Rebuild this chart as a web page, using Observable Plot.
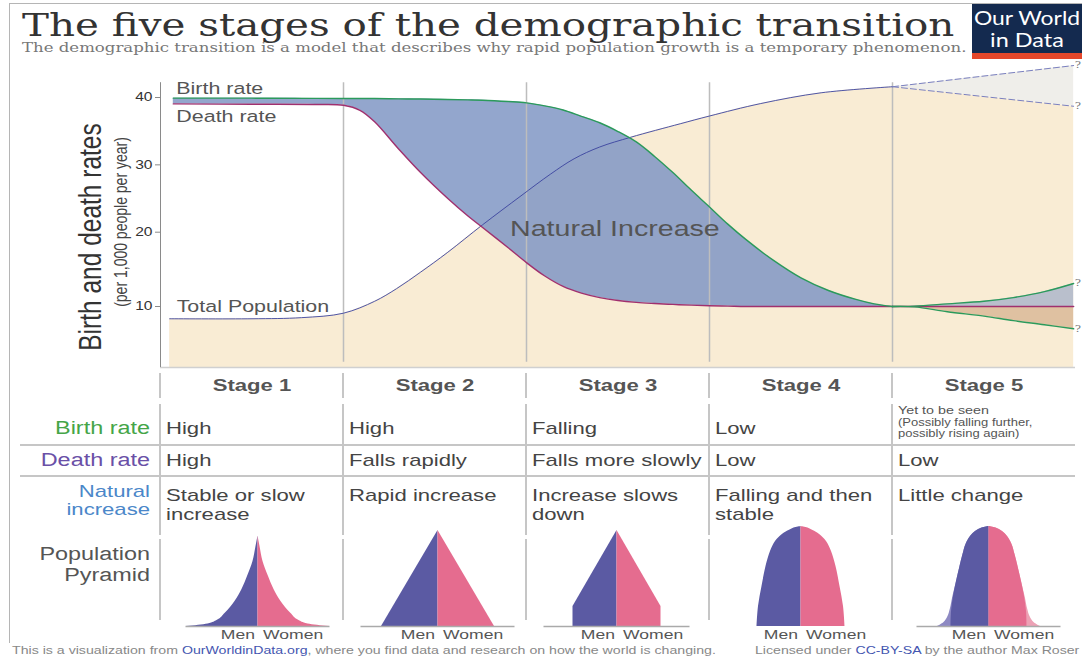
<!DOCTYPE html>
<html>
<head>
<meta charset="utf-8">
<script src="https://cdn.jsdelivr.net/npm/d3@7"></script>
<script src="https://cdn.jsdelivr.net/npm/@observablehq/plot@0.6"></script>
<style>
  body { margin: 0; background: #fff; }
  #page { position: relative; width: 1082px; height: 657px; overflow: hidden; background: #fff;
          font-family: "Liberation Sans", Arial, sans-serif; }
  .t { position: absolute; white-space: nowrap; line-height: 1; }
  .box { position: absolute; }
</style>
</head>
<body>
<div id="page"></div>
<script>
// ---------------- DATA ----------------
const stages = ["Stage 1", "Stage 2", "Stage 3", "Stage 4", "Stage 5"];
const yTicks = [10, 20, 30, 40];
const seriesLabels = ["Birth rate", "Death rate", "Total Population"];
const increaseLabel = "Natural Increase";

// stages 1-4: x measured in stages (0 = start of stage 1, 5 = end of stage 5)
const rateX     = [0.07, 0.5, 0.85, 1.0, 1.09, 1.17, 1.3, 1.42, 1.57, 1.68, 1.76, 1.9, 2.0, 2.1, 2.2, 2.3, 2.4, 2.5, 2.6, 2.7, 2.8, 2.9, 3.0, 3.1, 3.2, 3.35, 3.5, 3.65, 3.8, 3.9, 4.0];
const birthRate = [39.9, 39.9, 39.87, 39.85, 39.85, 39.85, 39.8, 39.77, 39.7, 39.65, 39.6, 39.4, 39.2, 38.75, 38.15, 37.2, 36.25, 34.95, 33.4, 31.25, 28.85, 26.25, 23.75, 21.2, 19.0, 16.2, 13.85, 12.15, 10.95, 10.35, 10.0];
const deathRate = [39.05, 39.0, 38.97, 38.85, 38.1, 36.4, 32.4, 28.9, 25.0, 22.4, 20.7, 17.9, 15.9, 14.1, 12.7, 11.8, 11.2, 10.8, 10.55, 10.4, 10.28, 10.18, 10.1, 10.05, 10.0, 10.0, 10.0, 10.0, 10.0, 10.0, 10.0];

const popX       = [0.05, 0.5, 0.77, 1.0, 1.17, 1.29, 1.42, 1.57, 1.76, 1.97, 2.13, 2.26, 2.4, 2.57, 2.84, 3.0, 3.28, 3.61, 4.0];
const population = [8.35, 8.35, 8.5, 9.1, 10.7, 12.4, 14.6, 17.3, 21.1, 25.4, 28.6, 30.9, 32.65, 34.1, 36.1, 37.25, 39.1, 40.7, 41.6];

// stage 5 (uncertain future)
const stage5X     = [4.0, 4.12, 4.3, 4.5, 4.66, 4.83, 4.99];
const birthHigh   = [10.0, 10.05, 10.35, 10.7, 11.2, 12.0, 13.1];
const birthLow    = [10.0, 9.95, 9.3, 8.7, 8.1, 7.55, 7.0];
const deathStage5 = [10, 10, 10, 10, 10, 10, 10];
const popX5   = [4.0, 4.99];
const popHigh = [41.6, 44.75];
const popLow  = [41.6, 38.7];

// table texts
const birthText = ["High", "High", "Falling", "Low"];
const birthTextStage5 = ["Yet to be seen", "(Possibly falling further,", "possibly rising again)"];
const deathText = ["High", "Falls rapidly", "Falls more slowly", "Low", "Low"];
const increaseText = [["Stable or slow", "increase"], ["Rapid increase"], ["Increase slows", "down"], ["Falling and then", "stable"], ["Little change"]];

// population pyramids: height (0-100) and half width at that height
const pyramidHeights = [
  [0, 2.6, 6, 13, 25, 37, 50, 65, 80, 90.5],
  [0, 96],
  [0, 20, 96],
  [0, 20, 40, 60, 75, 85, 92, 96, 98.5, 100],
  [0, 15, 30, 45, 60, 72, 82, 90, 95, 98.5, 100]
];
const pyramidWidths = [
  [72, 50, 41, 33, 23, 16, 10.5, 5, 2, 0],
  [56.5, 0],
  [44, 44, 0],
  [44, 42.5, 39, 35, 30.5, 25.5, 18.6, 12, 7, 0],
  [38, 37.5, 35.5, 32.5, 29, 26, 23, 18.5, 13.5, 7, 0]
];
const pyramid5OuterHeights = [0, 4, 10, 18, 28, 45, 60, 72, 82, 90, 95, 98.5, 100];
const pyramid5OuterWidths  = [51.5, 45, 41, 38.5, 36.5, 32.5, 29, 26, 23, 18.5, 13.5, 7, 0];

// ---------------- LAYOUT / STYLE ----------------
const page = document.getElementById("page");
const SX = 1.3;             // horizontal stretch of the original artwork
const colStarts = [160, 343, 526, 709, 892];
const colW = 183;
const BEIGE = "#f9ecd4", GREEN = "#2b9a5b", PURPLE = "#a0306e", POPBLUE = "#3b44a0";
const MEN = "#5b5aa3", WOMEN = "#e56c8f", MEN_L = "#8d89c3", WOMEN_L = "#eda1b5";
const CURVE = "catmull-rom";

function label(text, x, y, o = {}) {
  const d = document.createElement("div");
  d.className = "t";
  if (o.html) d.innerHTML = text; else d.textContent = text;
  d.style.left = x + "px";
  d.style.top = y + "px";
  d.style.fontSize = (o.size || 17) + "px";
  d.style.color = o.color || "#444";
  if (o.weight) d.style.fontWeight = o.weight;
  if (o.family) d.style.fontFamily = o.family;
  page.appendChild(d);
  let sx = o.sx ?? SX;
  if (o.fit) sx = o.fit / d.offsetWidth;
  const a = o.anchor || "start";
  const tx = a === "start" ? "0" : a === "end" ? "-100%" : "-50%";
  d.style.transformOrigin = (a === "start" ? "0%" : a === "end" ? "100%" : "50%") + " 50%";
  d.style.transform = `translate(${tx},-50%) scaleX(${sx})`;
  return d;
}
function rect(x, y, w, h, bg) {
  const d = document.createElement("div");
  d.className = "box";
  Object.assign(d.style, {left: x + "px", top: y + "px", width: w + "px", height: h + "px", background: bg});
  page.appendChild(d);
  return d;
}
function stretchSvgText(svg, s) {
  svg.querySelectorAll("text").forEach(t => {
    const x = +(t.getAttribute("x") || 0);
    const tr = t.getAttribute("transform") || "";
    t.setAttribute("transform", `${tr} translate(${x},0) scale(${s},1) translate(${-x},0)`);
  });
}

// frame
rect(9, 3, 1073, 1, "#b5b5b5");
rect(9, 3, 1, 640, "#b5b5b5");

// title & subtitle
label("The five stages of the demographic transition", 22, 25,
      {size: 31, color: "#333", family: '"DejaVu Serif", serif', fit: 933});
label("The demographic transition is a model that describes why rapid population growth is a temporary phenomenon.", 22, 47.5,
      {size: 12, color: "#777", family: '"DejaVu Serif", serif', fit: 945});

// logo
rect(972, 4, 110, 49, "#142a4f");
rect(972, 53, 110, 6, "#e5472b");
label("Our World", 1027, 17, {size: 19, color: "#fff", family: "Lato, sans-serif", anchor: "middle", fit: 106});
label("in Data", 1027, 39, {size: 19, color: "#fff", family: "Lato, sans-serif", anchor: "middle", fit: 74});

// ---------------- MAIN CHART ----------------
const rates = rateX.map((x, i) => ({x, birth: birthRate[i], death: deathRate[i]}));
const pop = popX.map((x, i) => ({x, y: population[i]}));
const s5 = stage5X.map((x, i) => ({x, hi: birthHigh[i], lo: birthLow[i], death: deathStage5[i]}));
const pop5 = popX5.map((x, i) => ({x, hi: popHigh[i], lo: popLow[i]}));
const yBase = 1.8;
const qMarks = [
  {x: popX5[1], y: popHigh[1]}, {x: popX5[1], y: popLow[1]},
  {x: stage5X[stage5X.length - 1], y: birthHigh[birthHigh.length - 1]},
  {x: stage5X[stage5X.length - 1], y: birthLow[birthLow.length - 1]}
];

const chart = Plot.plot({
  width: 1082, height: 315,
  marginLeft: 160, marginRight: 7, marginTop: 0, marginBottom: 8,
  style: {fontFamily: '"Liberation Sans", Arial, sans-serif', background: "transparent", overflow: "visible"},
  x: {domain: [0, 5], axis: null},
  y: {type: "linear", domain: [yBase, 10, 20, 40, 45.5], range: [307, 246, 171.7, 37, 0], axis: null},
  marks: [
    Plot.areaY(pop, {x: "x", y1: yBase, y2: "y", fill: BEIGE, curve: CURVE}),
    Plot.areaY(pop5, {x: "x", y1: yBase, y2: "lo", fill: BEIGE}),
    Plot.areaY(pop5, {x: "x", y1: "lo", y2: "hi", fill: "#efeeea"}),
    Plot.areaY(rates, {x: "x", y1: "death", y2: "birth", fill: "#8096c4", fillOpacity: 0.85, curve: CURVE}),
    Plot.areaY(s5, {x: "x", y1: "death", y2: "hi", fill: "#b9bfcc", curve: CURVE}),
    Plot.areaY(s5, {x: "x", y1: "lo", y2: "death", fill: "#dfc1a1", curve: CURVE}),
    Plot.ruleX([1, 2, 3, 4], {y1: 2.5, y2: 42.2, stroke: "#bdbdbd", strokeWidth: 1.5}),
    Plot.ruleY([yBase], {stroke: "#d0d0d0", strokeWidth: 1.5}),
    Plot.line(pop, {x: "x", y: "y", stroke: POPBLUE, strokeWidth: 0.9, curve: CURVE}),
    Plot.line(pop5, {x: "x", y: "hi", stroke: "#7a80c0", strokeWidth: 1, strokeDasharray: "6,3"}),
    Plot.line(pop5, {x: "x", y: "lo", stroke: "#7a80c0", strokeWidth: 1, strokeDasharray: "6,3"}),
    Plot.line(rates, {x: "x", y: "death", stroke: PURPLE, strokeWidth: 1.4, curve: CURVE}),
    Plot.line(s5, {x: "x", y: "death", stroke: PURPLE, strokeWidth: 1.4}),
    Plot.line(rates, {x: "x", y: "birth", stroke: GREEN, strokeWidth: 1.4, curve: CURVE}),
    Plot.line(s5, {x: "x", y: "hi", stroke: GREEN, strokeWidth: 1.4, curve: CURVE}),
    Plot.line(s5, {x: "x", y: "lo", stroke: GREEN, strokeWidth: 1.4, curve: CURVE}),
    Plot.ruleX([0], {y1: yBase, y2: 42.2, stroke: "#8a8a8a", strokeWidth: 1}),
    Plot.axisY(yTicks, {anchor: "left", tickSize: 5, tickPadding: 3, fontSize: 12, color: "#333", stroke: "#8a8a8a", label: null}),
    Plot.text([rates[0]], {x: "x", y: "birth", text: () => seriesLabels[0], dx: 3, dy: -9, textAnchor: "start", fontSize: 16.5, fill: "#555"}),
    Plot.text([rates[0]], {x: "x", y: "death", text: () => seriesLabels[1], dx: 3, dy: 13, textAnchor: "start", fontSize: 16.5, fill: "#555"}),
    Plot.text([pop[0]], {x: "x", y: "y", text: () => seriesLabels[2], dx: 7, dy: -12, textAnchor: "start", fontSize: 16.5, fill: "#555"}),
    Plot.text([{x: 1.91, y: 20.55}], {x: "x", y: "y", text: () => increaseLabel, textAnchor: "start", fontSize: 22, fill: "#555"}),
    Plot.text(qMarks, {x: "x", y: "y", text: () => "?", dx: 1, textAnchor: "start", fontSize: 9, fill: "#777", fontFamily: '"DejaVu Serif", serif'})
  ]
});
stretchSvgText(chart, SX);
const chartWrap = document.createElement("div");
chartWrap.className = "box";
chartWrap.style.left = "0px"; chartWrap.style.top = "60px";
chartWrap.appendChild(chart);
page.appendChild(chartWrap);

// y axis title (rotated)
function vlabel(text, cx, cy, size, color) {
  const d = document.createElement("div");
  d.className = "t";
  d.textContent = text;
  Object.assign(d.style, {left: cx + "px", top: cy + "px", fontSize: size + "px", color,
    transformOrigin: "50% 50%", transform: `translate(-50%,-50%) rotate(-90deg) scaleY(${SX})`});
  page.appendChild(d);
}
vlabel("Birth and death rates", 91, 236.5, 24.5, "#333");
vlabel("(per 1,000 people per year)", 120, 221.7, 14, "#444");

// ---------------- TABLE ----------------
const DIV = "#c6c6c6";
colStarts.forEach(x => {
  rect(x - 0.75, 373, 1.5, 25, DIV);
  rect(x - 0.75, 404, 1.5, 131, DIV);
  rect(x - 0.75, 539, 1.5, 81, DIV);
});
rect(20, 444, 1055, 1.5, DIV);
rect(20, 475, 1055, 1.5, DIV);

stages.forEach((s, i) => label(s, colStarts[i] + colW / 2, 385, {size: 17, weight: "bold", color: "#555", anchor: "middle"}));

label("Birth rate", 150, 428, {size: 18, color: "#45a548", anchor: "end"});
label("Death rate", 150, 460, {size: 18, color: "#6a50a7", anchor: "end"});
label("Natural", 150, 491, {size: 17, color: "#4b87c9", anchor: "end"});
label("increase", 150, 508.5, {size: 17, color: "#4b87c9", anchor: "end"});
label("Population", 150, 554, {size: 18, color: "#555", anchor: "end"});
label("Pyramid", 150, 574.5, {size: 18, color: "#555", anchor: "end"});

birthText.forEach((t, i) => label(t, colStarts[i] + 5.5, 428, {size: 17}));
label(birthTextStage5[0], colStarts[4] + 5.5, 410, {size: 11, color: "#555"});
label(birthTextStage5[1], colStarts[4] + 5.5, 422.5, {size: 10, color: "#555"});
label(birthTextStage5[2], colStarts[4] + 5.5, 434, {size: 10, color: "#555"});
deathText.forEach((t, i) => label(t, colStarts[i] + 5.5, 460, {size: 17}));
increaseText.forEach((lines, i) => lines.forEach((t, j) => label(t, colStarts[i] + 5.5, 495 + j * 18.5, {size: 17})));

// ---------------- PYRAMIDS ----------------
const pyrCurves = ["monotone-y", "linear", "linear", "catmull-rom", "catmull-rom"];
const pyrOffsets = [5.5, 2.5, -1, -0.5, 4.5];
const pyrBase = [72, 77, 73, 0, 72];
stages.forEach((s, i) => {
  const body = pyramidHeights[i].map((h, k) => ({h, w: pyramidWidths[i][k]}));
  const outer = i === 4 ? pyramid5OuterHeights.map((h, k) => ({h, w: pyramid5OuterWidths[k]})) : [];
  const curve = pyrCurves[i];
  const marks = [];
  if (outer.length) {
    marks.push(Plot.areaX(outer, {y: "h", x1: d => -d.w, x2: 0, fill: MEN_L, curve}));
    marks.push(Plot.areaX(outer, {y: "h", x1: 0, x2: "w", fill: WOMEN_L, curve}));
  }
  marks.push(Plot.areaX(body, {y: "h", x1: d => -d.w, x2: 0, fill: MEN, curve}));
  marks.push(Plot.areaX(body, {y: "h", x1: 0, x2: "w", fill: WOMEN, curve}));
  if (pyrBase[i]) marks.push(Plot.ruleY([0], {x1: -pyrBase[i], x2: pyrBase[i], stroke: "#aaa", strokeWidth: 1.5}));
  const p = Plot.plot({
    width: colW, height: 110, marginLeft: 0, marginRight: 0, marginTop: 6, marginBottom: 4,
    style: {background: "transparent", overflow: "visible"},
    x: {domain: [-colW / 2, colW / 2], axis: null},
    y: {domain: [0, 100], axis: null},
    marks
  });
  const wrap = document.createElement("div");
  wrap.className = "box";
  wrap.style.left = (colStarts[i] + pyrOffsets[i]) + "px";
  wrap.style.top = "520px";
  wrap.appendChild(p);
  page.appendChild(wrap);
  const c = colStarts[i] + colW / 2 + pyrOffsets[i];
  label("Men", c - 2, 634.5, {size: 13.5, color: "#555", anchor: "end"});
  label("Women", c + 6, 634.5, {size: 13.5, color: "#555"});
});

// ---------------- FOOTER ----------------
label('This is a visualization from <span style="color:#4456b0">OurWorldinData.org</span>, where you find data and research on how the world is changing.',
      12, 651, {html: true, size: 11.5, color: "#888", fit: 704});
label('Licensed under <span style="color:#4456b0">CC-BY-SA</span> by the author Max Roser',
      755, 651, {html: true, size: 11.5, color: "#888", fit: 324});
</script>
</body>
</html>
